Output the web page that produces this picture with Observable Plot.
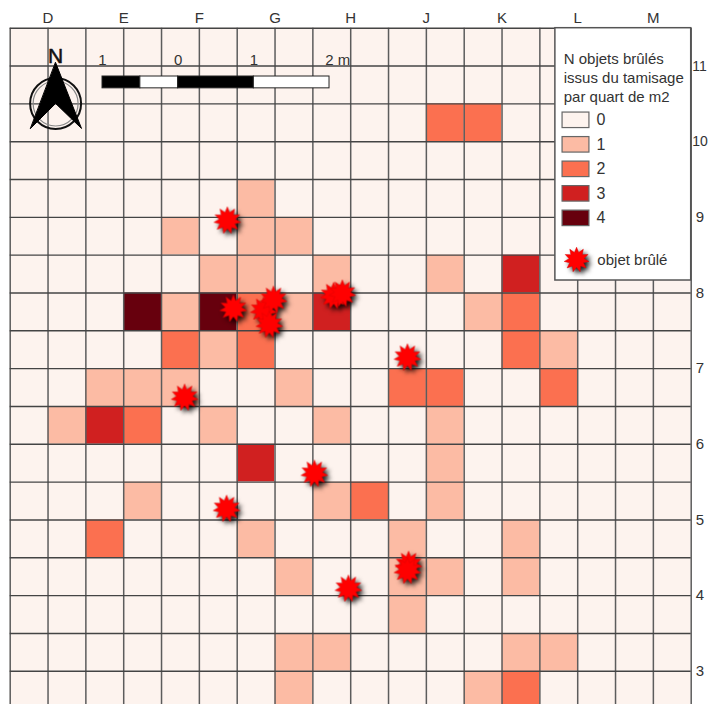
<!DOCTYPE html>
<html lang="fr">
<head>
<meta charset="utf-8">
<style>html,body{margin:0;padding:0;background:#fff}</style>
<script src="https://cdn.jsdelivr.net/npm/d3@7"></script>
<script src="https://cdn.jsdelivr.net/npm/@observablehq/plot@0.6"></script>
</head>
<body>
<script>
// Column and row labels sit on every second grid line
const colLabels = ["D","E","F","G","H","J","K","L","M"];
const rowLabels = ["11","10","9","8","7","6","5","4","3"];
const classes = [0,1,2,3,4];
const classColors = ["#fdf3ee","#fcbba4","#fb7050","#d02020","#67000d"];
const titleLines = ["N objets brûlés","issus du tamisage","par quart de m2"];

// Number of burnt objects per quarter of m2, one list per row of the grid
const counts = [
  [0,0,0,0,0,0,0,0,0,0,0,0,0,0,0,0,0,0],
  [0,0,0,0,0,0,0,0,0,0,0,0,0,0,0,0,0,0],
  [0,0,0,0,0,0,0,0,0,0,0,2,2,0,0,0,0,0],
  [0,0,0,0,0,0,0,0,0,0,0,0,0,0,0,0,0,0],
  [0,0,0,0,0,0,1,0,0,0,0,0,0,0,0,0,0,0],
  [0,0,0,0,1,0,1,1,0,0,0,0,0,0,0,0,0,0],
  [0,0,0,0,0,1,1,0,1,0,0,1,0,3,0,0,0,0],
  [0,0,0,4,1,4,2,1,3,0,0,0,1,2,0,0,0,0],
  [0,0,0,0,2,1,2,0,0,0,0,0,0,2,1,0,0,0],
  [0,0,1,1,1,0,0,1,0,0,2,2,0,0,2,0,0,0],
  [0,1,3,2,0,1,0,0,1,0,0,1,0,0,0,0,0,0],
  [0,0,0,0,0,0,3,0,0,0,0,1,0,0,0,0,0,0],
  [0,0,0,1,0,0,0,0,1,2,0,1,0,0,0,0,0,0],
  [0,0,2,0,0,0,1,0,0,0,1,0,0,1,0,0,0,0],
  [0,0,0,0,0,0,0,1,0,0,1,1,0,1,0,0,0,0],
  [0,0,0,0,0,0,0,0,0,0,1,0,0,0,0,0,0,0],
  [0,0,0,0,0,0,0,1,1,0,0,0,0,1,1,0,0,0],
  [0,0,0,0,0,0,0,1,0,0,0,0,1,2,0,0,0,0]
];

// Burnt objects, in grid units from the top-left corner
const starCol = [5.74,5.90,6.70,6.85,6.96,8.55,8.78,4.61,8.04,5.72,10.50,10.53,10.50,8.94];
const starRow = [5.08,7.41,7.46,7.83,7.17,7.07,7.01,9.76,11.77,12.70,8.70,14.18,14.34,14.81];

const scaleLabels = ["1","0","1"];
const scaleLabelCol = [2.44,4.44,6.44];
const scaleEnd = "2 m";
const scaleCol1 = [2.44,3.44,4.44,6.44];
const scaleCol2 = [3.44,4.44,6.44,8.44];
const scaleFill = ["#000","#fff","#000","#fff"];

const N = 18;
const cells = counts.flatMap((row,j) => row.map((v,i) => ({i,j,v})));
const lines = d3.range(0,N+1);
const idx = a => a.map((_,i) => i);
const arrow = [[1.2,0.91],[1.885,2.65],[1.2,1.99],[0.537,2.65]];
const legendSlot = classes.map((c,k) => ({c, top:2.23+k*0.648}));

const star = {
  draw(ctx,size){
    const R = Math.sqrt(size/Math.PI), n = 11;
    for (let k=0;k<2*n;k++){
      const r = k%2 ? R*0.6 : R, a = -Math.PI/2 + k*Math.PI/n;
      const x = r*Math.cos(a), y = r*Math.sin(a);
      k ? ctx.lineTo(x,y) : ctx.moveTo(x,y);
    }
    ctx.closePath();
  }
};
const shadow = "drop-shadow(3px 3px 2px rgba(0,0,0,.85))";
const ink = "#333";
const font = {fontFamily:"'Liberation Sans',Helvetica,Arial,sans-serif"};

const chart = Plot.plot({
  width:708, height:704, margin:0,
  style:{background:"#fff",...font,overflow:"hidden",filter:"blur(0.35px)"},
  x:{type:"linear",domain:[0,N],range:[9.7,690.7],axis:null},
  y:{type:"linear",domain:[0,N],range:[27.7,708.6],axis:null},
  color:{type:"ordinal",domain:classes,range:classColors},
  marks:[
    Plot.rect(cells,{x1:d=>d.i,x2:d=>d.i+1,y1:d=>d.j,y2:d=>d.j+1,fill:d=>d.v}),
    Plot.ruleX(lines,{x:d=>d,y1:()=>0,y2:()=>N,stroke:"#5c5c5c",strokeWidth:1.5}),
    Plot.ruleY(lines,{y:d=>d,x1:()=>0,x2:()=>N,stroke:"#444",strokeWidth:1.4}),
    Plot.text(colLabels,{x:(d,i)=>2*i+1,y:()=>-0.26,text:d=>d,fontSize:15,fill:ink}),
    Plot.text(rowLabels,{x:d=>d.length>1?18.03:18.12,y:(d,i)=>2*i+1,text:d=>d,fontSize:d=>d.length>1?14:15,fill:ink,textAnchor:"start"}),

    // scale bar
    Plot.rect(idx(scaleFill),{x1:i=>scaleCol1[i],x2:i=>scaleCol2[i],y1:()=>1.277,y2:()=>1.59,fill:i=>scaleFill[i],stroke:"#222",strokeWidth:1}),
    Plot.text(scaleLabels,{x:(d,i)=>scaleLabelCol[i],y:()=>0.85,text:d=>d,fontSize:15,fill:ink}),
    Plot.text([scaleEnd],{x:()=>8.33,y:()=>0.85,text:d=>d,fontSize:15,fill:ink,textAnchor:"start"}),

    // north arrow
    Plot.dot([0],{x:()=>1.2,y:()=>1.99,r:25.5,stroke:"#111",strokeWidth:2,fill:"none"}),
    Plot.dot([0],{x:()=>1.2,y:()=>1.99,r:22.5,stroke:"#888",strokeWidth:1.2,fill:"none"}),
    Plot.line(arrow,{x:"0",y:"1",curve:"linear-closed",fill:"#000",stroke:"#000",strokeWidth:1}),
    Plot.text(["N"],{x:()=>1.2,y:()=>0.74,text:d=>d,fontSize:21,fill:"#111",stroke:"#111",strokeWidth:0.5}),

    // legend
    Plot.rect([0],{x1:()=>14.41,x2:()=>18,y1:()=>0,y2:()=>6.67,fill:"#fff",stroke:"#555",strokeWidth:1.5}),
    Plot.text(titleLines,{x:()=>14.63,y:(d,i)=>0.83+i*0.5,text:d=>d,fontSize:15,fill:ink,textAnchor:"start"}),
    Plot.rect(legendSlot,{x1:()=>14.6,x2:()=>15.31,y1:d=>d.top,y2:d=>d.top+0.41,fill:d=>d.c,stroke:"#666",strokeWidth:1.2}),
    Plot.text(legendSlot,{x:()=>15.5,y:d=>d.top+0.205,text:d=>String(d.c),fontSize:16,fill:ink,textAnchor:"start"}),
    Plot.dot([0],{x:()=>14.97,y:()=>6.12,r:12.5,symbol:star,fill:"#f00",stroke:"#d00",strokeWidth:0.5,imageFilter:shadow}),
    Plot.text(["objet brûlé"],{x:()=>15.52,y:()=>6.14,text:d=>d,fontSize:15,fill:ink,textAnchor:"start"}),

    // burnt objects
    Plot.dot(idx(starCol),{x:i=>starCol[i],y:i=>starRow[i],r:13.5,symbol:star,fill:"#f00",stroke:"#d00",strokeWidth:0.5,imageFilter:shadow})
  ]
});
document.body.appendChild(chart);
</script>
</body>
</html>
